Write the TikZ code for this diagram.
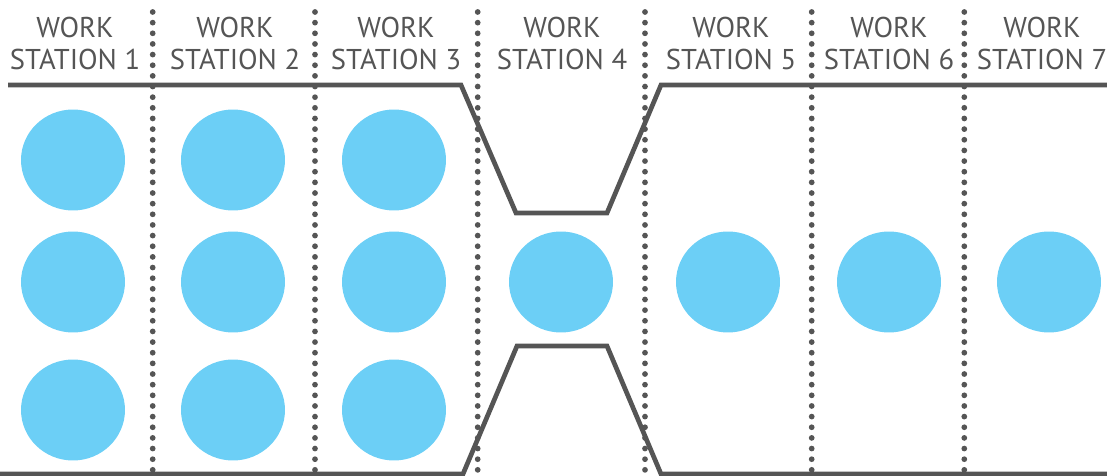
\documentclass[tikz,border=0pt]{standalone}
\usepackage{fontspec}
\setsansfont{PT Sans}
\usetikzlibrary{shapes.geometric}
\definecolor{ballblue}{RGB}{108,207,246}
\definecolor{linegray}{RGB}{85,85,85}

\begin{document}
\begin{tikzpicture}[x=0.02cm,y=-0.02cm,
  ball/.style={ellipse,fill=ballblue,minimum width=2.08cm,minimum height=2.02cm,inner sep=0pt},
  head/.style={text=linegray,font=\sffamily\fontsize{16.3}{18.2}\selectfont,align=center},
  divider/.style={linegray,line width=0.115cm,line cap=round,dash pattern=on 0pt off 0.213cm},
  belt/.style={linegray,line width=0.094cm,line join=miter}]

\useasboundingbox (0,0) rectangle (1107,476);

% station headings
\node[head] (h1) at (75,43)   {WORK\\STATION 1};
\node[head] (h2) at (235,43)  {WORK\\STATION 2};
\node[head] (h3) at (396,43)  {WORK\\STATION 3};
\node[head] (h4) at (562,43)  {WORK\\STATION 4};
\node[head] (h5) at (731,43)  {WORK\\STATION 5};
\node[head] (h6) at (889,43)  {WORK\\STATION 6};
\node[head] (h7) at (1042,43) {WORK\\STATION 7};

% queue before the bottleneck
\node[ball] (b11) at (73,160)  {};
\node[ball] (b12) at (73,282)  {};
\node[ball] (b13) at (73,410)  {};
\node[ball] (b21) at (233,160) {};
\node[ball] (b22) at (233,282) {};
\node[ball] (b23) at (233,410) {};
\node[ball] (b31) at (394,160) {};
\node[ball] (b32) at (394,282) {};
\node[ball] (b33) at (394,410) {};

% one item per station after it
\node[ball] (b4) at (561,282)  {};
\node[ball] (b5) at (728,282)  {};
\node[ball] (b6) at (889,282)  {};
\node[ball] (b7) at (1049,282) {};

% the belt with its narrow part
\draw[belt] (8,85) -- (461,85) -- (516,213) -- (607,213) -- (661,85) -- (1107,85);
\draw[belt] (0,474) -- (463,474) -- (517,346) -- (607,346) -- (661,474) -- (1107,474);

% station borders
\draw[divider] (152.7,12) -- (152.7,476);
\draw[divider] (315,12) -- (315,476);
\draw[divider] (477.7,12) -- (477.7,476);
\draw[divider] (645,12) -- (645,476);
\draw[divider] (811.7,12) -- (811.7,476);
\draw[divider] (964.3,12) -- (964.3,476);

\end{tikzpicture}
\end{document}
